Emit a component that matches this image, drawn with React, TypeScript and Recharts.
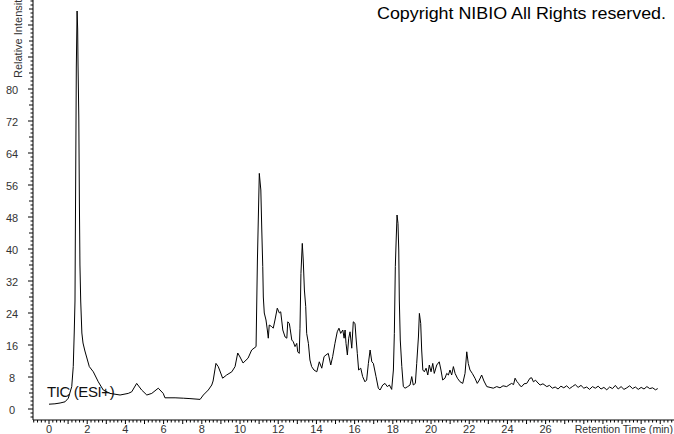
import { LineChart, Line, XAxis, YAxis } from "recharts";

// retention time (min) and relative intensity
const times = [
  0.0, 0.31, 0.58, 0.84, 1.01, 1.19, 1.27, 1.32, 1.36, 1.38, 1.41, 1.43, 1.47,
  1.5, 1.52, 1.56, 1.59, 1.62, 1.66, 1.72, 1.78, 1.88, 2.11, 2.32, 2.58, 2.84,
  3.19, 3.72, 4.15, 4.33, 4.59, 4.85, 5.12, 5.38, 5.72, 5.98, 6.07, 6.6, 7.03,
  7.38, 7.91, 8.08, 8.34, 8.52, 8.59, 8.74, 8.86, 8.95, 9.09, 9.3, 9.57, 9.74,
  9.88, 10.0, 10.16, 10.42, 10.61, 10.84, 10.91, 10.96, 11.01, 11.09, 11.14,
  11.19, 11.22, 11.27, 11.36, 11.43, 11.48, 11.53, 11.66, 11.74, 11.83, 11.95,
  12.06, 12.13, 12.24, 12.36, 12.45, 12.5, 12.58, 12.62, 12.71, 12.79, 12.88,
  12.97, 13.02, 13.1, 13.14, 13.19, 13.26, 13.31, 13.37, 13.44, 13.49, 13.58,
  13.66, 13.75, 13.87, 14.02, 14.15, 14.28, 14.4, 14.5, 14.62, 14.75, 14.85,
  14.97, 15.09, 15.18, 15.27, 15.38, 15.45, 15.5, 15.55, 15.62, 15.69, 15.76,
  15.85, 15.93, 16.02, 16.07, 16.14, 16.21, 16.32, 16.42, 16.54, 16.63, 16.72,
  16.81, 16.9, 16.98, 17.12, 17.24, 17.33, 17.47, 17.59, 17.71, 17.82, 17.94,
  18.03, 18.08, 18.13, 18.18, 18.22, 18.27, 18.31, 18.34, 18.39, 18.47, 18.55,
  18.64, 18.78, 18.9, 18.99, 19.07, 19.18, 19.25, 19.34, 19.39, 19.46, 19.51,
  19.57, 19.65, 19.74, 19.83, 19.91, 20.0, 20.09, 20.17, 20.3, 20.43, 20.52,
  20.61, 20.73, 20.82, 20.91, 20.99, 21.08, 21.17, 21.26, 21.38, 21.52, 21.66,
  21.78, 21.87, 21.95, 22.04, 22.16, 22.3, 22.42, 22.53, 22.65, 22.77, 22.92,
  23.09, 23.26, 23.44, 23.61, 23.77, 23.96, 24.08, 24.22, 24.32, 24.4, 24.49,
  24.58, 24.66, 24.75, 24.87, 25.01, 25.18, 25.27, 25.36, 25.47, 25.6, 25.71,
  25.86, 26.06, 26.2, 26.35, 26.5, 26.65, 26.8, 26.95, 27.1, 27.25, 27.4,
  27.55, 27.7, 27.85, 28.0, 28.15, 28.3, 28.45, 28.6, 28.75, 28.9, 29.05, 29.2,
  29.35, 29.5, 29.65, 29.8, 29.95, 30.1, 30.25, 30.4, 30.55, 30.7, 30.85, 31.0,
  31.15, 31.3, 31.45, 31.6, 31.75, 31.87,
];

const intensity = [
  1.2, 1.3, 1.5, 1.8, 2.7, 5.6, 10.6, 19, 27, 44, 69, 85.5, 99.5,
  95, 86, 73, 52, 36, 27, 19, 16.5, 14.5, 10.6, 9.3, 6.8, 4.75,
  3.9, 3.5, 3.9, 4.3, 6.4, 4.75, 3.5, 3.9, 5.2, 3.9, 2.8, 2.8, 2.7,
  2.6, 2.4, 3.5, 4.75, 6.0, 7.0, 11.4, 10.6, 9.5, 7.7, 8.5, 9.3, 10.6,
  14, 13, 11.5, 12.7, 14.75, 15.6, 37, 48, 58.9, 54.75, 44.75,
  35.6, 28, 24, 22.25, 19.75, 17.7, 21, 20.6, 20.2, 22.25, 25.2,
  24, 24.3, 19.75, 18, 17.7, 21.8, 21.4, 20.2, 17.25, 16.8, 15.6,
  16.4, 14.3, 13.9, 20.2, 33.9, 41.4, 37.25, 29.75, 25.6, 18.9, 16.4,
  12.25, 10.6, 9.75, 9.3, 11.8, 10.2, 13.1, 13.5, 13.9, 11, 13.1,
  16.4, 19.3, 20.2, 18.9, 19.75, 17.7, 19.75, 16.4, 13.5, 17.7, 19.3,
  15.2, 21.8, 21.4, 18, 13.9, 9.75, 10.2, 8.1, 6.8, 7.25, 11.4,
  14.75, 11.8, 11.4, 8.1, 5.2, 4.75, 6, 6.4, 5.6, 6, 4.9,
  9.75, 18.9, 35.6, 43, 48.5, 46.4, 39.75, 27.25, 17.25, 10.6, 5.6,
  5.2, 5.6, 6, 8.1, 6, 6.4, 11.4, 18, 23.9, 21.4, 14.75,
  9.75, 9.3, 10.2, 8.5, 11, 9.3, 11.4, 8.9, 11, 11.8, 9.75,
  7.25, 7.7, 8.9, 8.5, 9.75, 8.5, 10.6, 8.9, 7.7, 6.8, 6.4,
  8.9, 14.3, 11.4, 9.75, 8.9, 7.7, 6.4, 7.25, 8.5, 7.0, 5.6,
  5.4, 5.2, 5.6, 5.3, 5.8, 5.6, 6.0, 6.4, 6.1, 7.7, 6.9,
  6.4, 5.8, 5.6, 6.3, 6.4, 7.7, 7.8, 6.8, 7.2, 6.5, 6.0,
  6.3, 5.6, 5.9, 5.2, 5.5, 5.0, 5.7, 5.3, 5.8, 5.1, 5.6,
  6.1, 5.4, 5.9, 5.2, 5.5, 4.9, 5.6, 5.2, 5.7, 5.0, 5.4, 4.8,
  5.5, 5.1, 5.9, 5.0, 5.6, 4.9, 5.3, 5.8, 5.1, 5.5, 4.9, 5.4,
  5.0, 5.6, 5.1, 5.3, 4.8, 5.1,
];

const xLabels = [0, 2, 4, 6, 8, 10, 12, 14, 16, 18, 20, 22, 24, 26];
const yLabels = [0, 8, 16, 24, 32, 40, 48, 56, 64, 72, 80];

const data = times.map((t, i) => ({ t, v: intensity[i] }));

const xTicks = Array.from({ length: 168 }, (_, i) => Math.round((-0.8 + i * 0.2) * 10) / 10);
const yTicks = Array.from({ length: 105 }, (_, i) => i - 2);

const FONT = "'Liberation Sans', Arial, sans-serif";

const XTick = (props: any) => {
  const { x, y, payload } = props;
  const val = payload.value;
  const isInt = Math.abs(val - Math.round(val)) < 0.001;
  const len = isInt ? 4 : 2.5;
  return (
    <g>
      <line x1={x} x2={x} y1={y} y2={y + len} stroke="#000" />
      {isInt && xLabels.includes(Math.round(val)) && (
        <text x={x} y={y + 13} textAnchor="middle" fontSize={11} fontFamily={FONT} fill="#333">
          {Math.round(val)}
        </text>
      )}
    </g>
  );
};

const YTick = (props: any) => {
  const { x, y, payload } = props;
  const val = payload.value;
  const len = val % 8 === 0 ? 5 : val % 4 === 0 ? 4 : 2.5;
  return (
    <g>
      <line x1={x - len} x2={x} y1={y} y2={y} stroke="#000" />
      {yLabels.includes(val) && (
        <text x={12} y={y + 5} textAnchor="middle" fontSize={11} fontFamily={FONT} fill="#333">
          {val}
        </text>
      )}
    </g>
  );
};

export default function App() {
  return (
    <div style={{ position: "absolute", left: 0, top: 0, width: 674, height: 434, background: "#fff" }}>
      <LineChart width={674} height={434} data={data} margin={{ top: 0, right: 0, bottom: 0, left: 0 }}>
        <XAxis
          dataKey="t"
          type="number"
          domain={[-0.838, 32.72]}
          allowDataOverflow
          ticks={xTicks}
          interval={0}
          tick={<XTick />}
          tickLine={false}
          tickSize={0}
          tickMargin={0}
          height={14}
          axisLine={{ stroke: "#000" }}
        />
        <YAxis
          type="number"
          domain={[-2.75, 102.25]}
          allowDataOverflow
          ticks={yTicks}
          interval={0}
          tick={<YTick />}
          tickLine={false}
          tickSize={0}
          tickMargin={0}
          width={33}
          axisLine={{ stroke: "#000" }}
        />
        <Line
          type="linear"
          dataKey="v"
          stroke="#000"
          strokeWidth={1}
          dot={false}
          isAnimationActive={false}
        />
      </LineChart>
      <svg
        width={674}
        height={434}
        style={{ position: "absolute", left: 0, top: 0, pointerEvents: "none" }}
      >
        <text
          x={377}
          y={19}
          fontSize={16}
          fontFamily={FONT}
          fill="#000"
          textLength={289}
          lengthAdjust="spacingAndGlyphs"
        >
          Copyright NIBIO All Rights reserved.
        </text>
        <text x={47} y={397} fontSize={15} fontFamily={FONT} fill="#111" letterSpacing={-0.4}>
          TIC (ESI+)
        </text>
        <text x={673} y={433} textAnchor="end" fontSize={10.6} fontFamily={FONT} fill="#333">
          Retention Time (min)
        </text>
        <text
          x={0}
          y={0}
          transform="translate(22,78) rotate(-90)"
          fontSize={11}
          fontFamily={FONT}
          fill="#333"
        >
          Relative Intensity
        </text>
      </svg>
    </div>
  );
}
